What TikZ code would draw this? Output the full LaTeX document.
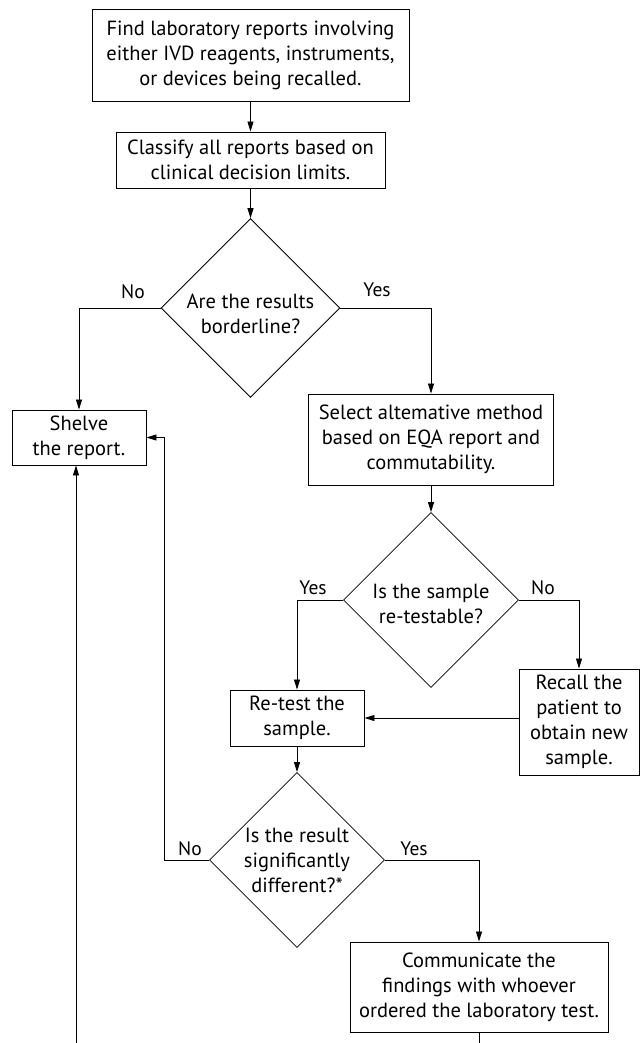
\documentclass[tikz,border=0pt]{standalone}
\usepackage{fontspec}
\setmainfont{PT Sans}
\usetikzlibrary{shapes.geometric,arrows.meta}

\tikzset{
  box/.style={draw, line width=0.9pt, align=center, inner sep=2pt},
  ask/.style={draw, diamond, line width=0.8pt, align=center, inner sep=0pt,
    minimum width=175pt, minimum height=175pt},
  arr/.style={line width=0.8pt, -{Triangle[length=10pt,width=6pt]}},
  line/.style={line width=0.8pt},
  ans/.style={inner sep=0pt, font=\fontsize{19.5}{24}\selectfont}
}

\begin{document}
\begin{tikzpicture}[x=1pt, y=-1pt, font=\fontsize{20.5}{25}\selectfont]
\useasboundingbox (0,0) rectangle (641,1043);
\coordinate (bot) at (0,1043);

\node[box, minimum width=317pt, minimum height=92pt] (find) at (250.5,55)
  {Find laboratory reports involving\\either IVD reagents, instruments,\\or devices being recalled.};
\node[box, minimum width=269pt, minimum height=56pt] (classify) at (250.5,160)
  {Classify all reports based on\\clinical decision limits.};
\node[ask] (q1) at (250.5,308) {\rule{0pt}{26pt}Are the results\\borderline?};
\node[box, minimum width=134pt, minimum height=55pt] (shelve) at (79,437.5)
  {Shelve\\the report.};
\node[box, minimum width=245pt, minimum height=91pt] (select) at (431,439.5)
  {Select altemative method\\based on EQA report and\\commutability.};
\node[ask] (q2) at (431,600) {\rule{0pt}{22pt}Is the sample\\re-testable?};
\node[box, minimum width=134pt, minimum height=56pt] (retest) at (297,718)
  {Re-test the\\sample.};
\node[box, minimum width=120pt, minimum height=106pt] (recall) at (579,722)
  {Recall the\\patient to\\obtain new\\sample.};
\node[ask] (q3) at (297,860) {Is the result\\significantly\\different?*};
\node[box, minimum width=258pt, minimum height=90pt] (comm) at (479,987)
  {Communicate the\\findings with whoever\\ordered the laboratory test.};

% answers
\node[ans] (no1) at (133,292) {No};
\node[ans] (yes1) at (377,290) {Yes};
\node[ans] (yes2) at (313,588) {Yes};
\node[ans] (no2) at (543,588) {No};
\node[ans] (no3) at (190,849) {No};
\node[ans] (yes3) at (414,849) {Yes};

% connectors
\draw[arr] (find) -- (classify);
\draw[arr] (classify) -- (q1);
\draw[arr] (q1.west) -| (shelve.north);
\draw[arr] (q1.east) -| (select.north);
\draw[arr] (select) -- (q2);
\draw[arr] (q2.west) -| (retest.north);
\draw[arr] (q2.east) -| (recall.north);
\draw[arr] (retest.east -| recall.west) -- (retest.east);
\draw[arr] (retest) -- (q3);
\draw[arr] (q3.west) -- ++(-45,0) |- (shelve.east);
\draw[arr] (q3.east) -| (comm.north);
\draw[line] (comm.south) -- (comm.south |- bot);
\draw[arr] ([xshift=-3pt]shelve.south |- bot) -- ([xshift=-3pt]shelve.south);
\end{tikzpicture}
\end{document}
